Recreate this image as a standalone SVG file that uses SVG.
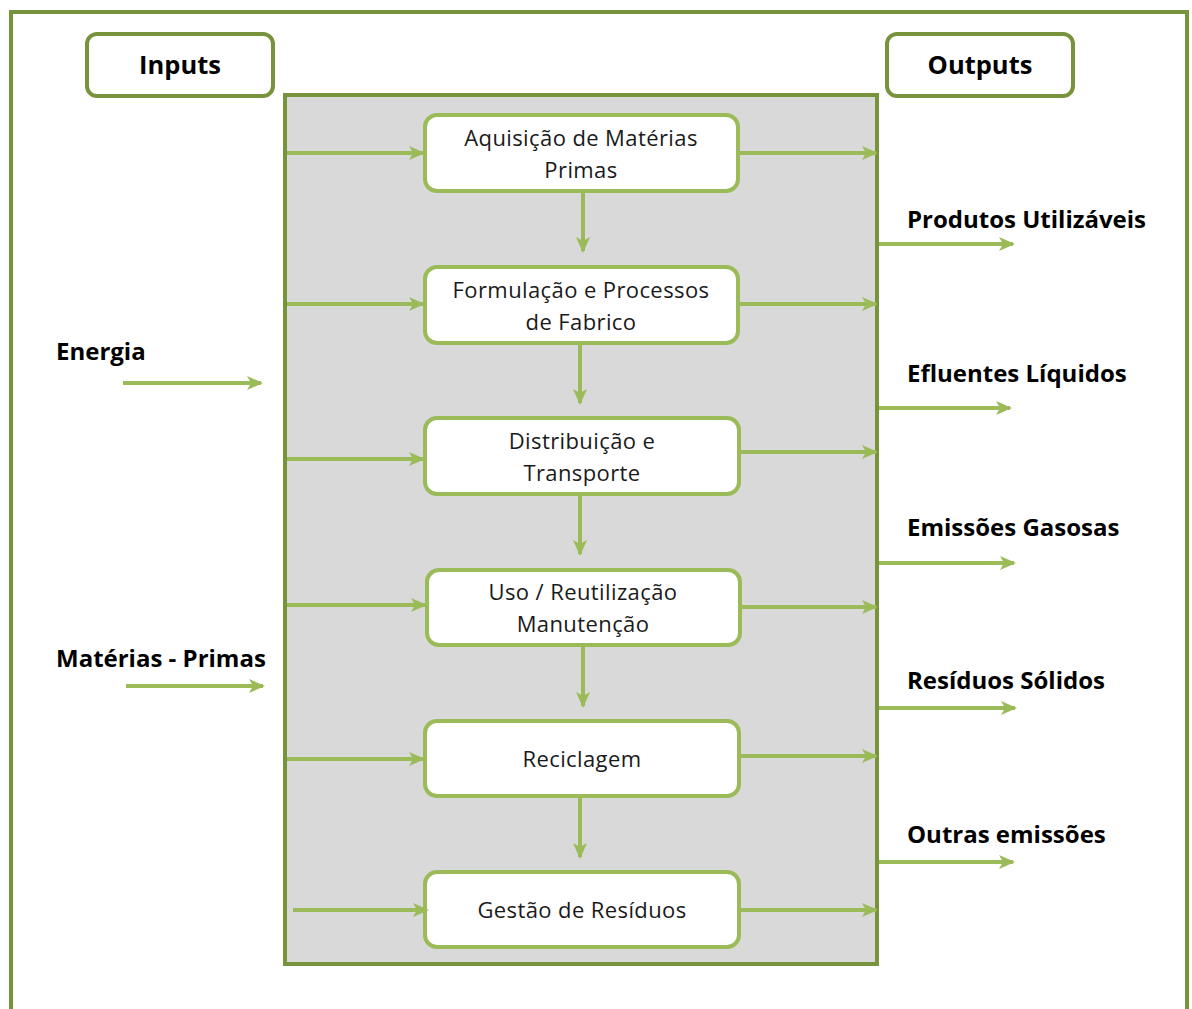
<svg xmlns="http://www.w3.org/2000/svg" width="1192" height="1009" viewBox="0 0 1192 1009">
<defs>
<style>
.frame{fill:#fff;stroke:#77933C;stroke-width:4}
.grey{fill:#D9D9D9;stroke:#77933C;stroke-width:4}
.hdr{fill:#fff;stroke:#77933C;stroke-width:4}
.proc{fill:#fff;stroke:#9BBB59;stroke-width:4}
.conn{stroke:#9BBB59;stroke-width:4;fill:none;marker-end:url(#ah)}
.ht{font-family:"Open Sans",Lato,sans-serif;font-weight:bold;font-size:25.5px;fill:#000}
.pt{font-family:"Open Sans",Lato,sans-serif;font-size:22px;letter-spacing:0.4px;fill:#1a1a1a;text-anchor:middle}
.lt{font-family:"Open Sans",Lato,sans-serif;font-weight:bold;font-size:24px;fill:#000}
</style>
<marker id="ah" markerWidth="16" markerHeight="14" refX="14" refY="7" orient="auto" markerUnits="userSpaceOnUse" viewBox="0 0 16 14">
<path d="M0,0 L16,7 L0,14 L4,7 Z" fill="#9BBB59"/>
</marker>
</defs>
<rect width="1192" height="1009" fill="#fff"/>
<rect class="frame" x="11" y="12" width="1176" height="1010"/>
<g id="inputs"><rect class="hdr" x="87" y="34" width="186" height="62" rx="10"/><text class="ht" x="180" y="74" text-anchor="middle">Inputs</text></g>
<g id="outputs"><rect class="hdr" x="887" y="34" width="186" height="62" rx="10"/><text class="ht" x="980" y="74" text-anchor="middle">Outputs</text></g>
<g id="lifecycle"><rect class="grey" x="285" y="95" width="592" height="869"/></g>
<g id="n1"><rect class="proc" x="425" y="115" width="313" height="76" rx="12"/><text class="pt" x="581" y="146">Aquisição de Matérias</text><text class="pt" x="581" y="178">Primas</text></g>
<g id="n2"><rect class="proc" x="425" y="267" width="313" height="76" rx="12"/><text class="pt" x="581" y="298">Formulação e Processos</text><text class="pt" x="581" y="330">de Fabrico</text></g>
<g id="n3"><rect class="proc" x="425" y="418" width="314" height="76" rx="12"/><text class="pt" x="582" y="449">Distribuição e</text><text class="pt" x="582" y="481">Transporte</text></g>
<g id="n4"><rect class="proc" x="427" y="570" width="313" height="75" rx="12"/><text class="pt" x="583" y="600">Uso / Reutilização</text><text class="pt" x="583" y="632">Manutenção</text></g>
<g id="n5"><rect class="proc" x="425" y="721" width="314" height="75" rx="12"/><text class="pt" x="582" y="767">Reciclagem</text></g>
<g id="n6"><rect class="proc" x="425" y="872" width="314" height="75" rx="12"/><text class="pt" x="582" y="918">Gestão de Resíduos</text></g>
<g id="energia"><text class="lt" x="56" y="360">Energia</text></g>
<g id="materias"><text class="lt" x="56" y="667">Matérias - Primas</text></g>
<g id="out1"><text class="lt" x="907" y="228">Produtos  Utilizáveis</text></g>
<g id="out2"><text class="lt" x="907" y="382">Efluentes Líquidos</text></g>
<g id="out3"><text class="lt" x="907" y="536">Emissões Gasosas</text></g>
<g id="out4"><text class="lt" x="907" y="689">Resíduos Sólidos</text></g>
<g id="out5"><text class="lt" x="907" y="843">Outras emissões</text></g>
<g id="connectors">
<path class="conn" d="M583,192 V251"/>
<path class="conn" d="M580,344 V403"/>
<path class="conn" d="M580,495 V554"/>
<path class="conn" d="M583,646 V706"/>
<path class="conn" d="M580,797 V857"/>
<path class="conn" d="M287,153 H423"/>
<path class="conn" d="M287,304 H423"/>
<path class="conn" d="M287,459 H423"/>
<path class="conn" d="M287,605 H425"/>
<path class="conn" d="M287,759 H423"/>
<path class="conn" d="M293,910 H427"/>
<path class="conn" d="M740,153 H876"/>
<path class="conn" d="M740,304 H876"/>
<path class="conn" d="M741,452 H876"/>
<path class="conn" d="M742,607 H876"/>
<path class="conn" d="M741,756 H876"/>
<path class="conn" d="M741,910 H876"/>
<path class="conn" d="M123,383 H261"/>
<path class="conn" d="M126,686 H263"/>
<path class="conn" d="M879,244 H1013"/>
<path class="conn" d="M879,408 H1010"/>
<path class="conn" d="M879,563 H1014"/>
<path class="conn" d="M879,708 H1015"/>
<path class="conn" d="M879,862 H1013"/>
</g>
</svg>
